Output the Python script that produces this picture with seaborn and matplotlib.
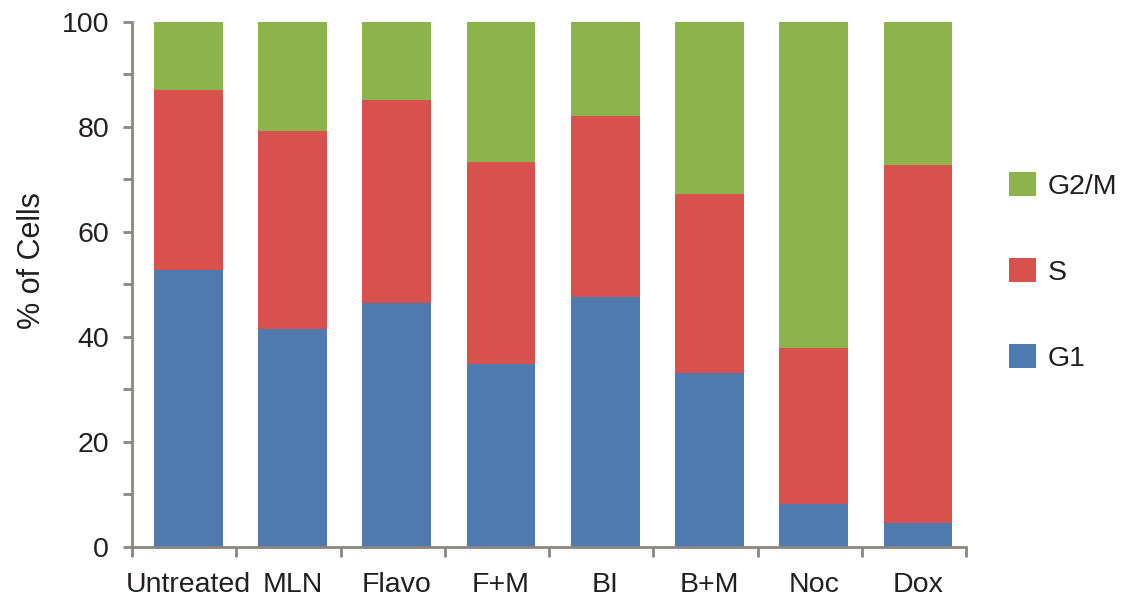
import matplotlib
matplotlib.use("Agg")
import matplotlib.pyplot as plt
from matplotlib.patches import Patch
from matplotlib.ticker import FixedLocator, NullFormatter
import numpy as np
import pandas as pd
import seaborn as sns

# Cell-cycle phase distribution per treatment (% of cells)
treatments = ["Untreated", "MLN", "Flavo", "F+M", "BI", "B+M", "Noc", "Dox"]
g1 = [52.8, 41.4, 46.5, 34.8, 47.5, 33.1, 8.1, 4.6]
s_phase = [34.2, 37.7, 38.6, 38.5, 34.6, 34.1, 29.7, 68.1]
g2m = [13.0, 20.9, 14.9, 26.7, 17.9, 32.8, 62.2, 27.3]

phase_colors = {"G1": "#4E7AAD", "S": "#D8514D", "G2/M": "#8DB44C"}

df = pd.DataFrame({"treatment": treatments, "G1": g1, "S": s_phase, "G2/M": g2m})
# cumulative tops of each stacked segment
df["top_G1"] = df["G1"]
df["top_S"] = df["G1"] + df["S"]
df["top_G2/M"] = df["G1"] + df["S"] + df["G2/M"]

sns.set_theme(style="white")
plt.rcParams["font.family"] = ["Liberation Sans", "DejaVu Sans"]

axis_gray = "#8C8580"
text_dark = "#231F20"
fs = 20.5

fig = plt.figure(figsize=(11.26, 6.01), dpi=100)
ax = fig.add_axes([132 / 1126, 1 - 547 / 601, (966 - 132) / 1126, (547 - 21.5) / 601])

# draw tallest segment first so shorter ones sit on top
for ph in ["G2/M", "S", "G1"]:
    sns.barplot(data=df, x="treatment", y=f"top_{ph}", order=treatments,
                color=phase_colors[ph], saturation=1, width=0.66,
                linewidth=0, ax=ax, errorbar=None)

# category slots sit slightly left of the bar centres
shift = 0.04
n = len(treatments)
ax.set_xlim(-0.5 - shift, n - 0.5 - shift)
ax.set_ylim(0, 100)

# x: tick marks between categories, labels at bar centres
ax.xaxis.set_major_locator(FixedLocator(np.arange(n + 1) - 0.5 - shift))
ax.xaxis.set_major_formatter(NullFormatter())
ax.xaxis.set_minor_locator(FixedLocator(np.arange(n)))
ax.set_xticklabels(treatments, minor=True)
ax.tick_params(axis="x", which="major", direction="out", length=7.5, width=2,
               color=axis_gray, bottom=True)
ax.tick_params(axis="x", which="minor", length=0, pad=18, labelsize=fs,
               labelcolor=text_dark, bottom=True)

# y: major every 20, minor every 10
ax.set_yticks(np.arange(0, 101, 20))
ax.yaxis.set_minor_locator(FixedLocator(np.arange(10, 100, 20)))
ax.tick_params(axis="y", which="both", direction="out", length=6.5, width=2,
               color=axis_gray, left=True)
ax.tick_params(axis="y", which="major", pad=10, labelsize=fs,
               labelcolor=text_dark)

ax.set_xlabel("")
ax.set_ylabel("% of Cells", fontsize=22, color=text_dark)
ax.yaxis.set_label_coords(-0.102, (547 - 261) / 525.5)

for side in ["top", "right"]:
    ax.spines[side].set_visible(False)
for side in ["left", "bottom"]:
    ax.spines[side].set_color(axis_gray)
    ax.spines[side].set_linewidth(2)

handles = [Patch(facecolor=phase_colors[p], edgecolor="none", label=p)
           for p in ["G2/M", "S", "G1"]]
fig.legend(handles=handles, loc="center left",
           bbox_to_anchor=(1009 / 1126, 1 - 272 / 601),
           bbox_transform=fig.transFigure, frameon=False,
           fontsize=fs, handlelength=0.95, handleheight=0.9,
           handletextpad=0.42, labelspacing=2.05, borderpad=0, borderaxespad=0,
           labelcolor=text_dark)

fig.savefig("out.png", dpi=100)
